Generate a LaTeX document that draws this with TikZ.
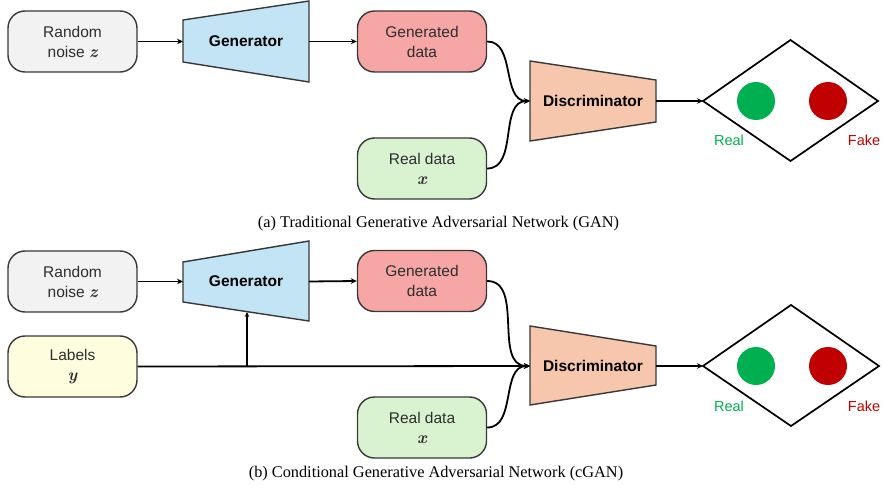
\documentclass[tikz,border=0pt]{standalone}
\usepackage{fontspec}
\setmainfont{Liberation Serif}
\setsansfont{Liberation Sans}
\newfontfamily\lmr{Latin Modern Roman}
\newcommand{\mv}[1]{{\lmr\bfseries\itshape\fontsize{17}{20}\selectfont #1}}
\usetikzlibrary{arrows.meta}
\definecolor{boxline}{HTML}{383838}
\definecolor{txt}{HTML}{2E2E2E}
\definecolor{noisefill}{HTML}{F2F2F2}
\definecolor{genblue}{HTML}{C3E4F5}
\definecolor{gdpink}{HTML}{F7A6A6}
\definecolor{rdgreen}{HTML}{D9F2D0}
\definecolor{lbyellow}{HTML}{FEFEDF}
\definecolor{discpeach}{HTML}{F6C6AD}
\definecolor{realgreen}{HTML}{00B050}
\definecolor{fakered}{HTML}{C00000}
\begin{document}
\begin{tikzpicture}[x=1pt,y=-1pt,
  box/.style={draw=boxline, line width=1.4pt, rounded corners=17pt,
    minimum width=129pt, minimum height=61pt, inner sep=0pt, align=center,
    font=\sffamily\fontsize{15.5}{20}\selectfont, text=txt},
  trap/.style={draw=boxline, line width=1.4pt},
  trlabel/.style={font=\sffamily\bfseries\fontsize{15.5}{19}\selectfont, text=black},
  conn/.style={line width=1.8pt, -{Stealth[length=6pt,width=5.5pt]}},
  thinconn/.style={line width=1.2pt, -{Stealth[length=5pt,width=4.5pt]}},
  dia/.style={draw=black, line width=1.7pt},
  reslabel/.style={font=\sffamily\fontsize{14.5}{17}\selectfont},
  caption/.style={font=\rmfamily\fontsize{16.3}{19}\selectfont, text=black}
]
\useasboundingbox (0,0) rectangle (883,489);

% ---------- (a) GAN ----------
\node[box, fill=noisefill] (noise1) at (72.5,41.5) {Random\\noise \mv{z}};
\draw[trap, fill=genblue] (183,20) -- (309,1) -- (309,82) -- (183,62) -- cycle;
\node[trlabel] (gen1) at (246,41.5) {Generator};
\coordinate (gen1in) at (183,41.5);
\coordinate (gen1out) at (309,41.5);
\node[box, fill=gdpink] (gd1) at (422,41.5) {Generated\\data};
\node[box, fill=rdgreen] (rd1) at (422,168.5) {Real data\\\mv{x}};
\draw[trap, fill=discpeach] (530,61) -- (656,80) -- (656,122) -- (530,141) -- cycle;
\node[trlabel] (disc1) at (593,101) {Discriminator};
\coordinate (disc1in) at (530,101);
\coordinate (disc1out) at (656,101);
\draw[dia] (703,101) -- (790.5,40) -- (878,101) -- (790.5,161) -- cycle;
\coordinate (dia1in) at (703,101);
\fill[realgreen] (756,101) circle (19pt);
\fill[fakered] (828,101) circle (19pt);
\node[reslabel, text=realgreen] (real1) at (729,140) {Real};
\node[reslabel, text=fakered] (fake1) at (864,140) {Fake};

\draw[conn] (noise1.east) -- (gen1in);
\draw[conn] (gen1out) -- (gd1.west);
\draw[conn] (gd1.east) to[out=0,in=180] (disc1in);
\draw[conn] (rd1.east) to[out=0,in=180] (disc1in);
\draw[conn] (disc1out) -- (dia1in);

\node[caption] (capa) at (438.5,224) {(a) Traditional Generative Adversarial Network (GAN)};

% ---------- (b) cGAN ----------
\node[box, fill=noisefill] (noise2) at (72.5,281.5) {Random\\noise \mv{z}};
\node[box, fill=lbyellow] (lab2) at (72.5,366.5) {Labels\\\mv{y}};
\draw[trap, fill=genblue] (183,262) -- (309,241) -- (309,321) -- (183,302) -- cycle;
\node[trlabel] (gen2) at (246,281.5) {Generator};
\coordinate (gen2in) at (183,281.5);
\coordinate (gen2out) at (309,281.5);
\coordinate (gen2bot) at (247,312);
\node[box, fill=gdpink] (gd2) at (422,281) {Generated\\data};
\node[box, fill=rdgreen] (rd2) at (422,427.5) {Real data\\\mv{x}};
\draw[trap, fill=discpeach] (530,326) -- (656,346) -- (656,385) -- (530,405) -- cycle;
\node[trlabel] (disc2) at (593,366) {Discriminator};
\coordinate (disc2in) at (530,366);
\coordinate (disc2out) at (656,366);
\coordinate (branch) at (247,366);
\draw[dia] (703,366) -- (791,305) -- (879,366) -- (791,426) -- cycle;
\coordinate (dia2in) at (703,366);
\fill[realgreen] (756,366) circle (19pt);
\fill[fakered] (828,366) circle (19pt);
\node[reslabel, text=realgreen] (real2) at (729,406) {Real};
\node[reslabel, text=fakered] (fake2) at (864,406) {Fake};

\draw[conn] (noise2.east) -- (gen2in);
\draw[conn] (gen2out) -- (gd2.west);
\draw[conn] (lab2.east) -- (disc2in);
\draw[thinconn] (branch) -- (gen2bot);
\draw[conn] (gd2.east) to[out=0,in=180] (disc2in);
\draw[conn] (rd2.east) to[out=0,in=180] (disc2in);
\draw[conn] (disc2out) -- (dia2in);

\node[caption] (capb) at (436,474) {(b) Conditional Generative Adversarial Network (cGAN)};
\end{tikzpicture}
\end{document}
